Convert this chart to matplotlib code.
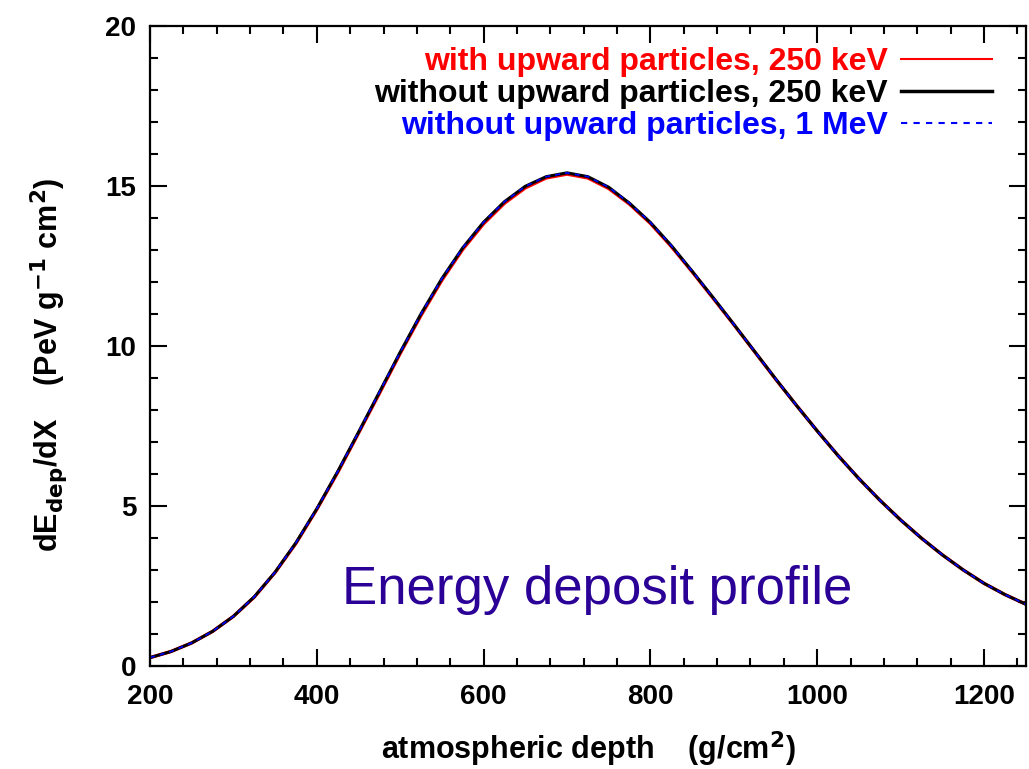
import matplotlib.pyplot as plt
from matplotlib.ticker import MultipleLocator

plt.rcParams['font.family'] = ['Liberation Sans', 'DejaVu Sans']
plt.rcParams['mathtext.default'] = 'bf'

# atmospheric depth (g/cm^2) and dE_dep/dX (PeV g^-1 cm^2)
depth = [200, 225, 250, 275, 300, 325, 350, 375, 400, 425, 450, 475, 500,
         525, 550, 575, 600, 625, 650, 675, 700, 725, 750, 775, 800, 825,
         850, 875, 900, 925, 950, 975, 1000, 1025, 1050, 1075, 1100, 1125,
         1150, 1175, 1200, 1225, 1250]
without_250kev = [0.26, 0.45, 0.72, 1.08, 1.55, 2.16, 2.93, 3.85, 4.91, 6.07,
                  7.3, 8.55, 9.8, 11.0, 12.1, 13.06, 13.86, 14.5, 14.98,
                  15.28, 15.4, 15.28, 14.95, 14.45, 13.85, 13.13, 12.33,
                  11.51, 10.67, 9.82, 8.97, 8.14, 7.34, 6.57, 5.85, 5.18,
                  4.56, 3.99, 3.47, 3.0, 2.58, 2.23, 1.93]
with_250kev = [0.26, 0.45, 0.72, 1.08, 1.55, 2.15, 2.92, 3.83, 4.89, 6.04,
               7.27, 8.51, 9.76, 10.95, 12.05, 13.01, 13.81, 14.45, 14.93,
               15.24, 15.36, 15.24, 14.91, 14.42, 13.82, 13.1, 12.31, 11.49,
               10.66, 9.81, 8.96, 8.14, 7.34, 6.57, 5.85, 5.18, 4.56, 3.99,
               3.47, 3.0, 2.58, 2.23, 1.93]
without_1mev = [0.26, 0.45, 0.72, 1.08, 1.55, 2.16, 2.93, 3.85, 4.91, 6.07,
                7.3, 8.55, 9.8, 11.0, 12.1, 13.06, 13.86, 14.5, 14.98,
                15.28, 15.4, 15.28, 14.95, 14.45, 13.85, 13.13, 12.33,
                11.51, 10.67, 9.82, 8.97, 8.14, 7.34, 6.57, 5.85, 5.18,
                4.56, 3.99, 3.47, 3.0, 2.58, 2.23, 1.93]

fig = plt.figure(figsize=(10.29, 7.69), dpi=100)
ax = fig.add_axes([0.1458, 0.134, 0.851, 0.8328])

ax.plot(depth, with_250kev, color='red', lw=2.4,
        label='with upward particles, 250 keV')
ax.plot(depth, without_250kev, color='black', lw=2.2,
        label='without upward particles, 250 keV')
ax.plot(depth, without_1mev, color='blue', lw=1.2, ls=(0, (3, 3)),
        label='without upward particles, 1 MeV')

ax.set_xlim(200, 1250)
ax.set_ylim(0, 20)
ax.xaxis.set_major_locator(MultipleLocator(200))
ax.xaxis.set_minor_locator(MultipleLocator(40))
ax.yaxis.set_major_locator(MultipleLocator(5))
ax.yaxis.set_minor_locator(MultipleLocator(1))
ax.tick_params(which='both', direction='in', top=True, right=True, width=1.5,
               labelsize=20)
ax.tick_params(which='major', length=12)
ax.tick_params(axis='x', which='major', pad=13)
ax.tick_params(axis='y', which='major', pad=10)
ax.tick_params(which='minor', length=6)
for lab in ax.get_xticklabels() + ax.get_yticklabels():
    lab.set_fontweight('bold')
for s in ax.spines.values():
    s.set_linewidth(1.6)

ax.set_xlabel(r'atmospheric depth    (g/cm$^\mathbf{2}$)', fontsize=22,
              fontweight='bold', labelpad=14)
ax.set_ylabel(r'dE$_\mathbf{dep}$/dX    (PeV g$^\mathbf{-1}$ cm$^\mathbf{2}$)',
              fontsize=22, fontweight='bold')
ax.yaxis.set_label_coords(-0.091, 0.47)

leg = ax.legend(loc='upper right', bbox_to_anchor=(0.961, 0.966),
                frameon=False, markerfirst=False, labelcolor='linecolor',
                prop={'size': 23, 'weight': 'bold'}, handlelength=2.85,
                handletextpad=0.4, labelspacing=0.06, borderpad=0,
                borderaxespad=0)
for h in leg.get_lines():
    h.set_linewidth(1.5)
leg.get_lines()[1].set_linewidth(2.5)

ax.text(0.511, 0.118, 'Energy deposit profile', transform=ax.transAxes,
        ha='center', va='center', fontsize=38, color='#2a0096')

fig.savefig('out.png', dpi=100)
